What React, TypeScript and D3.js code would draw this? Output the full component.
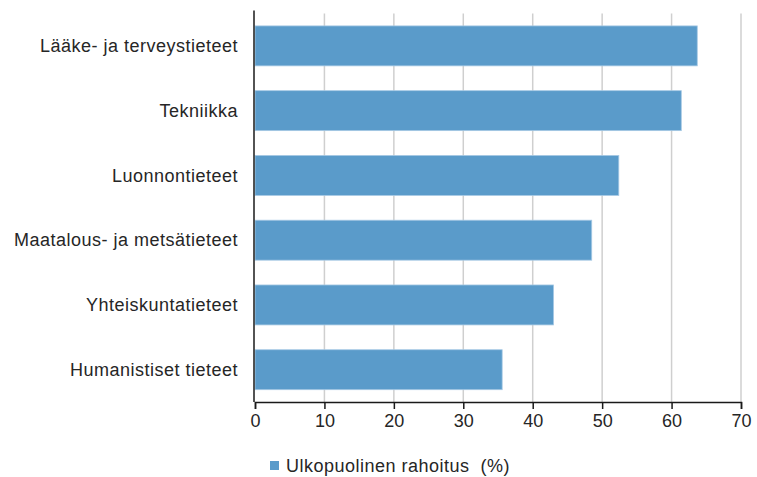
import React, { useEffect, useRef } from "react";
import * as d3 from "d3";

// Chart data
const categories = [
  "Lääke- ja terveystieteet",
  "Tekniikka",
  "Luonnontieteet",
  "Maatalous- ja metsätieteet",
  "Yhteiskuntatieteet",
  "Humanistiset tieteet",
];
const values = [63.7, 61.4, 52.4, 48.5, 43.0, 35.6];
const xTicks = [0, 10, 20, 30, 40, 50, 60, 70];
const seriesName = "Ulkopuolinen rahoitus  (%)";

// Layout
const width = 757;
const height = 477;
const marginLeft = 255;
const marginRight = 16;
const marginTop = 13.6;
const axisY = 402;
const font = "'Liberation Sans', Arial, sans-serif";
const fontSize = 18;
const barColor = "#5A9BCA";
const textColor = "#262626";

const App: React.FC = () => {
  const svgRef = useRef<SVGSVGElement>(null);

  useEffect(() => {
    if (!svgRef.current) return;
    const svg = d3.select(svgRef.current);
    svg.selectAll("*").remove();

    const x = d3
      .scaleLinear()
      .domain([0, 70])
      .range([marginLeft, width - marginRight]);

    const y = d3
      .scaleBand()
      .domain(categories)
      .range([marginTop, axisY])
      .paddingInner(0.383)
      .paddingOuter(0.19);

    // Vertical grid lines
    svg
      .append("g")
      .selectAll("line")
      .data(xTicks.slice(1))
      .join("line")
      .attr("x1", (d) => x(d))
      .attr("x2", (d) => x(d))
      .attr("y1", marginTop)
      .attr("y2", axisY)
      .attr("stroke", "#cfcfcf")
      .attr("stroke-width", 1.5);

    // Bars
    svg
      .append("g")
      .selectAll("rect")
      .data(values)
      .join("rect")
      .attr("x", x(0))
      .attr("y", (d, i) => y(categories[i]) || 0)
      .attr("width", (d) => x(d) - x(0))
      .attr("height", y.bandwidth())
      .attr("fill", barColor)
      .attr("stroke", "#a6c9e4")
      .attr("stroke-width", 0.8);

    // Category labels
    svg
      .append("g")
      .selectAll("text")
      .data(categories)
      .join("text")
      .attr("x", marginLeft - 17)
      .attr("y", (d) => (y(d) || 0) + y.bandwidth() / 2)
      .attr("dy", "0.35em")
      .attr("text-anchor", "end")
      .attr("font-family", font)
      .attr("font-size", fontSize)
      .attr("letter-spacing", 0.5)
      .attr("fill", textColor)
      .text((d) => d);

    // Bottom axis
    const xAxis = svg
      .append("g")
      .attr("transform", `translate(0,${axisY})`)
      .call(d3.axisBottom(x).tickValues(xTicks).tickSize(7).tickPadding(5));
    xAxis.select(".domain").attr("stroke", "#1a1a1a").attr("stroke-width", 1.5);
    xAxis.selectAll(".tick line").attr("stroke", "#1a1a1a").attr("stroke-width", 1.5);
    xAxis
      .selectAll(".tick text")
      .attr("font-family", font)
      .attr("font-size", fontSize)
      .attr("fill", textColor);

    // Left axis line
    svg
      .append("line")
      .attr("x1", x(0) - 1)
      .attr("x2", x(0) - 1)
      .attr("y1", marginTop - 3)
      .attr("y2", axisY)
      .attr("stroke", "#1a1a1a")
      .attr("stroke-width", 1.5);

    // Legend
    const legend = svg.append("g").attr("transform", `translate(270,466)`);
    legend
      .append("rect")
      .attr("x", 0)
      .attr("y", -5)
      .attr("width", 9)
      .attr("height", 9)
      .attr("fill", barColor);
    legend
      .append("text")
      .attr("x", 16)
      .attr("y", 0)
      .attr("dy", "0.35em")
      .attr("font-family", font)
      .attr("font-size", fontSize)
      .attr("letter-spacing", 0.5)
      .style("white-space", "pre")
      .attr("fill", textColor)
      .text(seriesName);
  }, []);

  return (
    <svg
      ref={svgRef}
      width={width}
      height={height}
      style={{ position: "absolute", left: 0, top: 0, background: "#fff" }}
    />
  );
};

export default App;
